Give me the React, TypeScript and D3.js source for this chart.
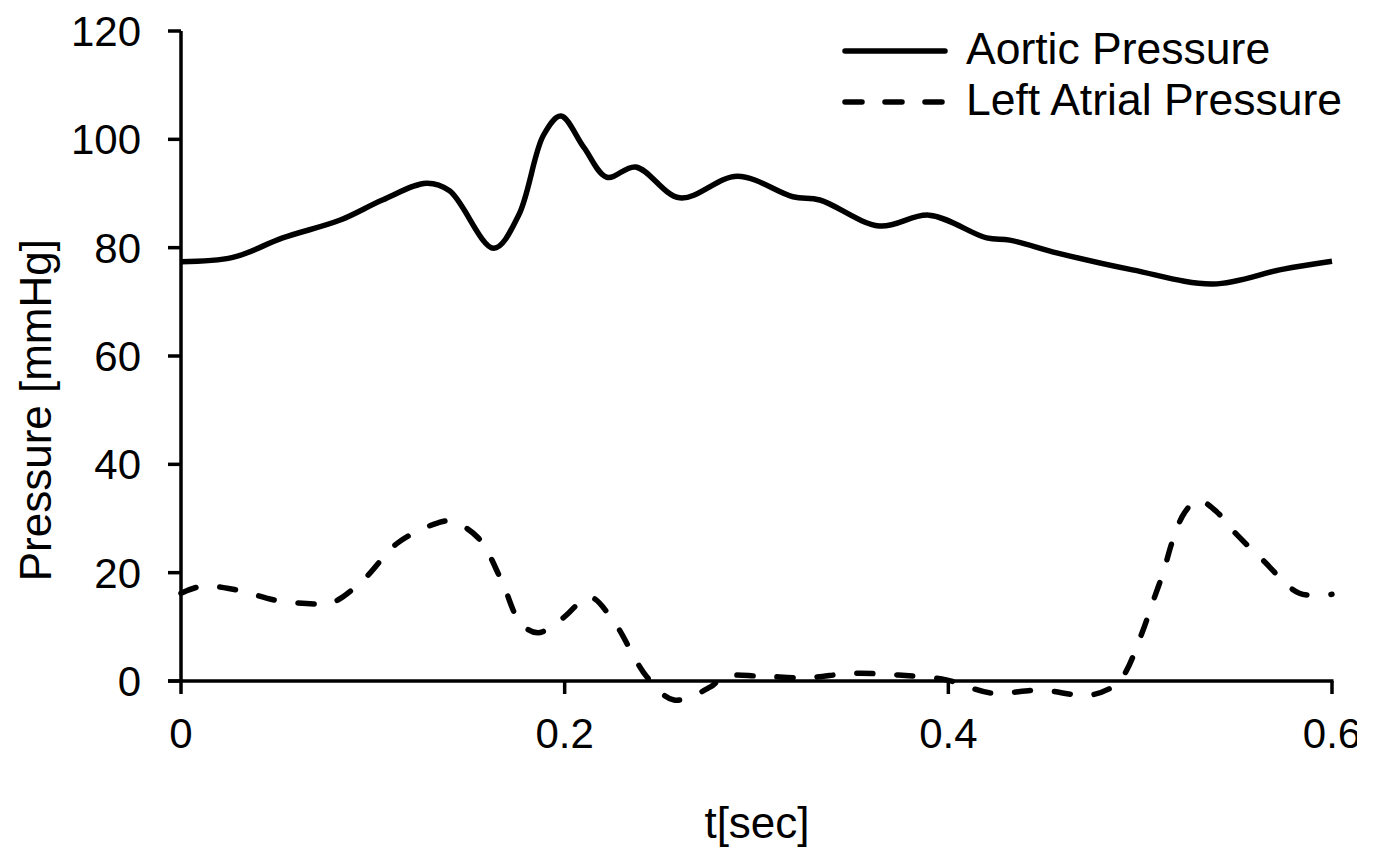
import * as d3 from "d3";

// values
const aorticT = [0, 0.027, 0.053, 0.083, 0.105, 0.128, 0.14, 0.163, 0.176, 0.189, 0.198, 0.21, 0.222, 0.237, 0.26, 0.29, 0.319, 0.333, 0.364, 0.39, 0.42, 0.432, 0.457, 0.496, 0.538, 0.574, 0.6];
const aorticP = [77.4, 78.2, 81.8, 85.1, 88.8, 91.9, 90.5, 79.9, 86, 100.8, 104.3, 98.5, 93.0, 94.9, 89.2, 93.2, 89.4, 88.8, 84.0, 86.0, 81.8, 81.4, 79.0, 75.9, 73.3, 76.0, 77.5];

const atrialT = [0, 0.011, 0.029, 0.051, 0.076, 0.082, 0.096, 0.113, 0.134, 0.141, 0.155, 0.167, 0.177, 0.186, 0.199, 0.213, 0.225, 0.243, 0.257, 0.276, 0.283, 0.302, 0.326, 0.35, 0.374, 0.399, 0.422, 0.448, 0.474, 0.488, 0.493, 0.501, 0.507, 0.512, 0.517, 0.523, 0.53, 0.54, 0.548, 0.564, 0.583, 0.6];
const atrialP = [16.2, 17.5, 16.8, 14.8, 14.3, 15.0, 19.0, 25.5, 29.2, 29.5, 26.4, 18.6, 10.7, 8.9, 11.6, 15.5, 11.3, 0.7, -3.5, -1.1, 0.8, 0.9, 0.6, 1.4, 1.1, 0.2, -2.2, -1.7, -2.6, -0.5, 2.0, 8.9, 15.0, 20.0, 26.0, 31.0, 33.4, 31.2, 27.9, 22.3, 16.2, 16.0];

const xTicks = [0, 0.2, 0.4, 0.6];
const yTicks = [0, 20, 40, 60, 80, 100, 120];
const seriesNames = ["Aortic Pressure", "Left Atrial Pressure"];

const W = 1378;
const H = 850;
const FONT = "'Liberation Sans', Arial, sans-serif";
const DASH = "16,24";

export default function App() {
  const x = d3.scaleLinear().domain([0, 0.6]).range([181, 1332]);
  const y = d3.scaleLinear().domain([0, 120]).range([681, 31]);

  const line = d3
    .line<[number, number]>()
    .x((d) => x(d[0]))
    .y((d) => y(d[1]))
    .curve(d3.curveCatmullRom.alpha(0.5));

  const aortic = aorticT.map((t, i) => [t, aorticP[i]] as [number, number]);
  const atrial = atrialT.map((t, i) => [t, atrialP[i]] as [number, number]);

  return (
    <div style={{ position: "absolute", left: 0, top: 0, width: 1357, height: H, overflow: "hidden", background: "#fff" }}>
      <svg width={W} height={H} style={{ display: "block" }} fontFamily={FONT}>
        <rect width={W} height={H} fill="#fff" />

        {/* y axis */}
        <line x1={x(0)} x2={x(0)} y1={y(120)} y2={y(0)} stroke="#000" strokeWidth={3.5} />
        {yTicks.map((v) => (
          <g key={"y" + v}>
            <line x1={x(0) - 13} x2={x(0)} y1={y(v)} y2={y(v)} stroke="#000" strokeWidth={3.5} />
            <text x={141} y={y(v)} dy="0.36em" textAnchor="end" fontSize={42}>
              {v}
            </text>
          </g>
        ))}

        {/* x axis */}
        <line x1={x(0) - 13} x2={x(0.6) + 1.5} y1={y(0)} y2={y(0)} stroke="#000" strokeWidth={3.5} />
        {xTicks.map((t) => (
          <g key={"x" + t}>
            <line x1={x(t)} x2={x(t)} y1={y(0)} y2={y(0) + 13} stroke="#000" strokeWidth={3.5} />
            <text x={x(t)} y={748} textAnchor="middle" fontSize={42}>
              {t === 0 ? "0" : t.toFixed(1)}
            </text>
          </g>
        ))}

        {/* series */}
        <path d={line(aortic) ?? ""} fill="none" stroke="#000" strokeWidth={5.5} strokeLinejoin="round" />
        <path d={line(atrial) ?? ""} fill="none" stroke="#000" strokeWidth={5.5} strokeDasharray={DASH} strokeLinecap="round" />

        {/* axis titles */}
        <text x={757} y={838} textAnchor="middle" fontSize={44}>
          t[sec]
        </text>
        <text transform={`translate(51,${y(50)}) rotate(-90)`} textAnchor="middle" fontSize={44}>
          Pressure [mmHg]
        </text>

        {/* legend */}
        <g>
          <line x1={845} x2={945} y1={51} y2={51} stroke="#000" strokeWidth={5.5} strokeLinecap="round" />
          <text x={966} y={64} fontSize={44.5}>
            {seriesNames[0]}
          </text>
          <line x1={845} x2={945} y1={102} y2={102} stroke="#000" strokeWidth={5.5} strokeLinecap="round" strokeDasharray="17,23" />
          <text x={966} y={115} fontSize={44.5}>
            {seriesNames[1]}
          </text>
        </g>
      </svg>
    </div>
  );
}
